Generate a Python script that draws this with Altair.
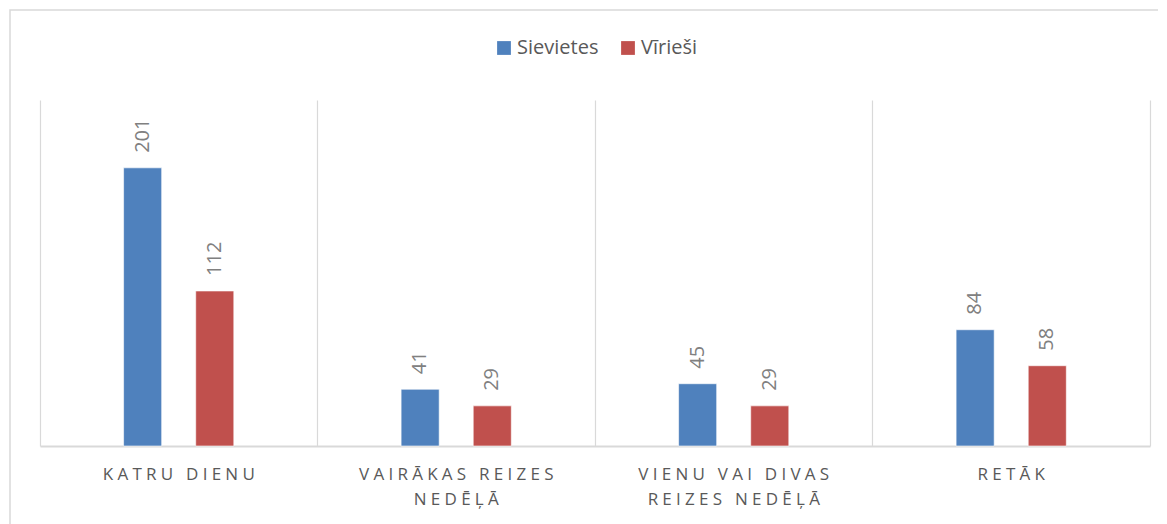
import altair as alt
import pandas as pd

categories = ["KATRU DIENU", "VAIRĀKAS REIZES NEDĒĻĀ", "VIENU VAI DIVAS REIZES NEDĒĻĀ", "RETĀK"]
label_lines = [["KATRU DIENU"], ["VAIRĀKAS REIZES", "NEDĒĻĀ"], ["VIENU VAI DIVAS", "REIZES NEDĒĻĀ"], ["RETĀK"]]
series = ["Sievietes", "Vīrieši"]
sievietes = [201, 41, 45, 84]
virieši = [112, 29, 29, 58]
colors = ["#4F81BD", "#C0504D"]

rows = []
for i, c in enumerate(categories):
    rows.append({"cat": c, "series": series[0], "value": sievietes[i]})
    rows.append({"cat": c, "series": series[1], "value": virieši[i]})
df = pd.DataFrame(rows)

GAP = "\u2005"
def spaced(s):
    return GAP.join(list(s))

expr = "''"
for c, lines in reversed(list(zip(categories, label_lines))):
    arr = "[" + ",".join("'" + spaced(l) + "'" for l in lines) + "]"
    expr = f"datum.label == '{c}' ? {arr} : ({expr})"

FONT = "Open Sans"
W, H = 1110, 346

x_enc = alt.X("cat:N", sort=categories, title=None,
              scale=alt.Scale(paddingInner=0, paddingOuter=0),
              axis=alt.Axis(grid=True, bandPosition=0, gridColor="#d9d9d9", gridWidth=1.2,
                            domainColor="#d9d9d9", domainWidth=1.8, ticks=False,
                            labelAngle=0, labelFontSize=17, labelColor="#595959", labelFont=FONT,
                            labelPadding=20, labelLineHeight=25, labelLimit=400,
                            labelExpr=expr))
xo = alt.XOffset("series:N", sort=series,
                 scale=alt.Scale(range=[83.6, 193.8], paddingInner=0.472, paddingOuter=0))
y_enc = alt.Y("value:Q", title=None,
              scale=alt.Scale(domain=[0, 250], nice=False),
              axis=alt.Axis(orient="right", labels=False, ticks=False, grid=False,
                            domainColor="#d9d9d9", domainWidth=1.2))

bars = alt.Chart(df).mark_bar(stroke="white", strokeWidth=0.6).encode(
    x=x_enc, xOffset=xo, y=y_enc,
    color=alt.Color("series:N", sort=series,
                    scale=alt.Scale(domain=series, range=colors),
                    legend=alt.Legend(title=None, orient="none", direction="horizontal",
                                      legendX=454, legendY=-62, symbolType="square",
                                      symbolSize=190, symbolStrokeWidth=0,
                                      labelFontSize=20, labelColor="#595959", labelFont=FONT,
                                      labelOffset=3, columnPadding=19))
)

labels = alt.Chart(df).mark_text(angle=270, align="left", baseline="middle", dx=15,
                                 fontSize=20, color="#808080", font=FONT).encode(
    x=alt.X("cat:N", sort=categories), xOffset=alt.XOffset("series:N", sort=series),
    y="value:Q", text="value:Q"
)

frame = alt.Chart(pd.DataFrame({"a": [0]})).mark_rect(fill=None, stroke="#d9d9d9", strokeWidth=1.5).encode(
    x=alt.value(-30), x2=alt.value(W + 60), y=alt.value(-90), y2=alt.value(H + 200)
)

chart = alt.layer(frame, bars, labels).properties(
    width=W, height=H,
    padding={"left": 32, "top": 92, "right": 8, "bottom": 78},
    autosize=alt.AutoSizeParams(type="none"),
    background="white",
).configure_view(stroke=None)

chart.save("out.html", embed_options={"renderer": "svg", "actions": False})
